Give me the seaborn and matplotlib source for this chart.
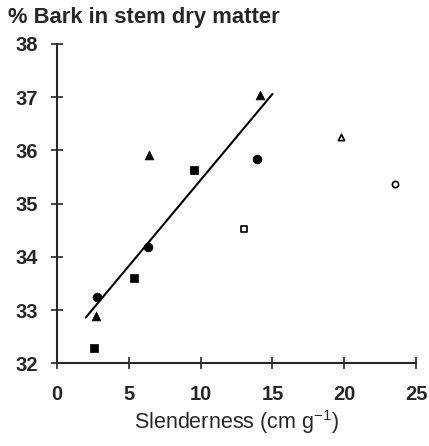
import matplotlib
matplotlib.use("Agg")
import matplotlib.pyplot as plt
import seaborn as sns
import pandas as pd

# Data
sq_filled_x = [2.6, 5.35, 9.55]
sq_filled_y = [32.28, 33.6, 35.63]
tri_filled_x = [2.7, 6.4, 14.15]
tri_filled_y = [32.88, 35.92, 37.04]
circ_filled_x = [2.8, 6.35, 13.95]
circ_filled_y = [33.25, 34.19, 35.84]
sq_open_x = [13.0]
sq_open_y = [34.52]
tri_open_x = [19.75]
tri_open_y = [36.25]
circ_open_x = [23.5]
circ_open_y = [35.36]
fit_x = [2.0, 15.0]
fit_y = [32.86, 37.06]

x_ticks = [0, 5, 10, 15, 20, 25]
y_ticks = [32, 33, 34, 35, 36, 37, 38]

sns.set_style("ticks")
plt.rcParams['font.family'] = ['Liberation Sans', 'DejaVu Sans']
plt.rcParams['mathtext.fontset'] = 'custom'
plt.rcParams['mathtext.rm'] = 'Liberation Sans'

fig = plt.figure(figsize=(4.29, 4.46), dpi=100)
ax = fig.add_axes([0.1329, 0.1854, 0.837, 0.716])

groups = [
    (sq_filled_x, sq_filled_y, "s", True),
    (tri_filled_x, tri_filled_y, "^", True),
    (circ_filled_x, circ_filled_y, "o", True),
    (sq_open_x, sq_open_y, "s", False),
    (tri_open_x, tri_open_y, "^", False),
    (circ_open_x, circ_open_y, "o", False),
]
for gx, gy, m, filled in groups:
    df = pd.DataFrame({"x": gx, "y": gy})
    if filled:
        sns.scatterplot(data=df, x="x", y="y", marker=m, s=40, color="black",
                        edgecolor="black", linewidth=0.5, ax=ax, zorder=3)
    else:
        sns.scatterplot(data=df, x="x", y="y", marker=m, s=20, facecolor="white",
                        edgecolor="black", linewidth=1.2, ax=ax, zorder=3)

sns.lineplot(x=fit_x, y=fit_y, color="black", linewidth=1.5, ax=ax)

ax.set_xlim(0, 25)
ax.set_ylim(32, 38)
ax.set_xticks(x_ticks)
ax.set_yticks(y_ticks)
ax.set_xticklabels([str(v) for v in x_ticks], fontsize=14.5, fontweight="bold")
ax.set_yticklabels([str(v) for v in y_ticks], fontsize=14.5, fontweight="bold")
ax.tick_params(direction="inout", length=9, width=1.2, pad=9)
ax.tick_params(axis="x", pad=11)
for s in ["top", "right"]:
    ax.spines[s].set_visible(False)
for s in ["left", "bottom"]:
    ax.spines[s].set_linewidth(1.5)
ax.set_xlabel(r"Slenderness (cm g$^{-1}$)", fontsize=15.5, labelpad=3)
ax.set_ylabel("")
fig.text(0.018, 0.961, "% Bark in stem dry matter", fontsize=15.8, fontweight="bold",
         ha="left", va="center")

fig.savefig("out.png", dpi=100)
